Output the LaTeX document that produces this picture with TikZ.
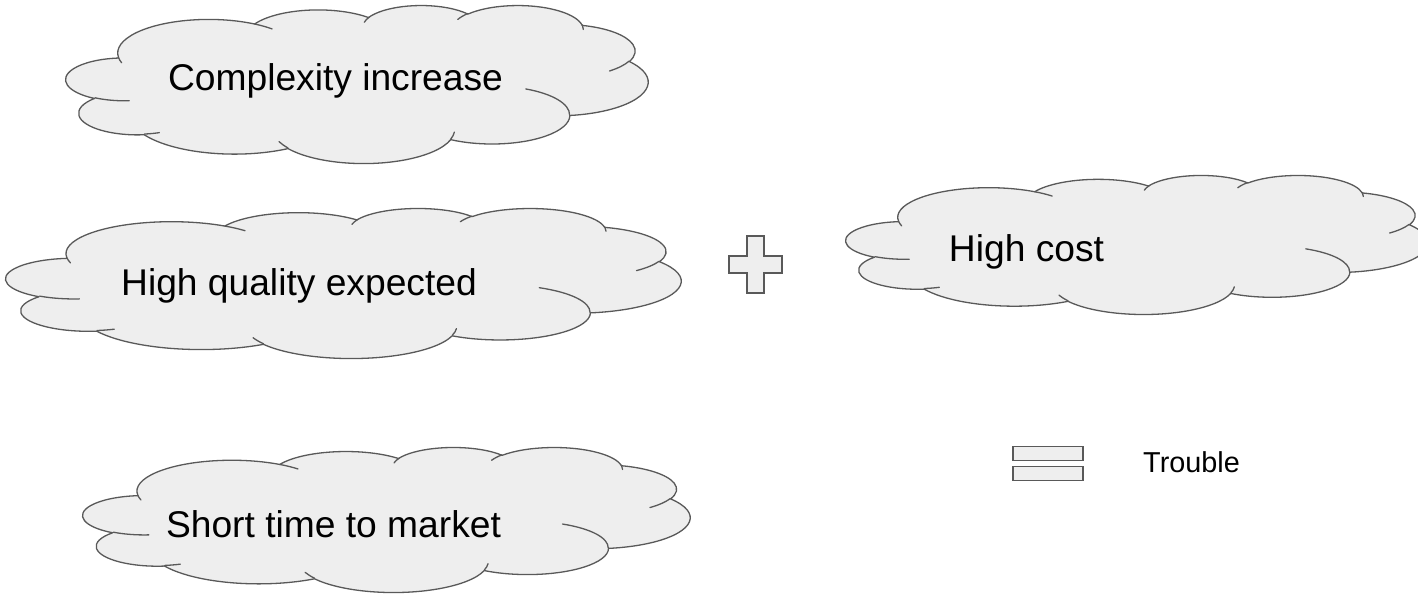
\documentclass[tikz,border=0pt]{standalone}
\usepackage{fontspec}
\setmainfont{Liberation Sans}

\definecolor{cloudfill}{HTML}{EEEEEE}
\definecolor{cloudedge}{HTML}{595959}

% An elliptical arc given by radii, start angle and sweep, where the angles
% are measured as directions from the centre; stored as a TikZ arc style
% with the equivalent parametric angles.
% #1 style name, #2 x radius, #3 y radius, #4 start angle, #5 sweep
\newcommand\defcloudarc[5]{%
  \pgfmathsetmacro\cla{atan2((#2)*sin(#4),(#3)*cos(#4))}%
  \pgfmathsetmacro\clb{atan2((#2)*sin((#4)+(#5)),(#3)*cos((#4)+(#5)))}%
  \pgfmathsetmacro\cld{\clb-\cla}%
  \ifdim\cld pt<0pt \pgfmathsetmacro\cld{\cld+360}\fi
  \edef\cltmp{\noexpand\tikzset{#1/.style={start angle=\cla,delta angle=\cld,x radius=#2,y radius=#3}}}%
  \cltmp}

% outline of the cloud (43.2 x 43.2 grid)
\defcloudarc{cloudarcA}{6.753}{9.190}{-190.487483}{123.780533}
\defcloudarc{cloudarcB}{5.333}{7.267}{-144.102383}{89.945233}
\defcloudarc{cloudarcC}{4.365}{5.945}{-145.807917}{99.723017}
\defcloudarc{cloudarcD}{4.857}{6.595}{-130.986067}{117.241733}
\defcloudarc{cloudarcE}{5.333}{7.273}{-78.708883}{109.026917}
\defcloudarc{cloudarcF}{6.775}{9.220}{-46.26725}{130.269}
\defcloudarc{cloudarcG}{5.785}{7.867}{0.625017}{114.033333}
\defcloudarc{cloudarcH}{6.752}{9.215}{22.4516}{115.17255}
\defcloudarc{cloudarcI}{7.720}{10.543}{66.242633}{75.711017}
\defcloudarc{cloudarcJ}{4.360}{5.918}{-274.942083}{146.735567}
\defcloudarc{cloudarcK}{4.345}{5.945}{-246.8285}{152.51885}
% short inner strokes between the puffs
\defcloudarc{cloudinA}{4.345}{5.945}{86.742}{26.4295}
\defcloudarc{cloudinB}{4.360}{5.918}{73.610467}{11.447467}
\defcloudarc{cloudinC}{6.752}{9.215}{137.62415}{14.0811}
\defcloudarc{cloudinD}{6.752}{9.215}{6.453267}{15.99835}
\defcloudarc{cloudinE}{5.785}{7.867}{-70.29235}{70.917367}
\defcloudarc{cloudinF}{5.333}{7.273}{30.318033}{27.7515}
\defcloudarc{cloudinG}{4.857}{6.595}{-13.744333}{14.8589}
\defcloudarc{cloudinH}{4.857}{6.595}{-149.18145}{18.195367}
\defcloudarc{cloudinI}{4.365}{5.945}{-163.494267}{17.68635}
\defcloudarc{cloudinJ}{6.753}{9.190}{-66.70695}{12.31935}
\defcloudarc{cloudinK}{6.753}{9.190}{157.65435}{11.858167}

\tikzset{
  cloudbody/.style={draw=cloudedge, fill=cloudfill, line width=0.65pt, line join=round},
  clouddetail/.style={draw=cloudedge, line width=0.65pt, line cap=round},
  mathsign/.style={draw=cloudedge, fill=cloudfill, line width=0.65pt},
  lbl/.style={inner sep=0pt, anchor=base, font=\fontsize{18.6pt}{22pt}\selectfont},
  smalllbl/.style={inner sep=0pt, anchor=base, font=\fontsize{14.4pt}{17pt}\selectfont},
}

% cloud in the box with top left corner (#1,#2), width #3 and height #4
\newcommand\cloudat[4]{%
  \begin{scope}[shift={(#1,#2)}, xscale=#3/43.2, yscale=#4/43.2]
    \path[cloudbody] (3.900,14.370) arc[cloudarcA] arc[cloudarcB] arc[cloudarcC]
      arc[cloudarcD] arc[cloudarcE] arc[cloudarcF] arc[cloudarcG] arc[cloudarcH]
      arc[cloudarcI] arc[cloudarcJ] arc[cloudarcK] -- cycle;
    \path[clouddetail]
      (4.693,26.177) arc[cloudinA]   (6.928,34.899) arc[cloudinB]
      (16.478,39.090) arc[cloudinC]  (28.827,34.751) arc[cloudinD]
      (34.129,22.954) arc[cloudinE]  (41.798,15.354) arc[cloudinF]
      (38.324,5.426) arc[cloudinG]   (29.078,3.952) arc[cloudinH]
      (22.141,4.720) arc[cloudinI]   (14.000,5.192) arc[cloudinJ]
      (4.127,15.789) arc[cloudinK];
  \end{scope}}

\begin{document}
\begin{tikzpicture}[x=0.5pt, y=-0.5pt]
  \useasboundingbox (0,0) rectangle (1418,595);

  % the four clouds
  \cloudat{66}{5}{582}{158}
  \cloudat{6}{208}{675}{150}
  \cloudat{83}{447}{607}{145}
  \cloudat{846}{175}{582}{139}

  \node[lbl] (complexity) at (335.5,90)  {Complexity increase};
  \node[lbl] (quality)    at (299,295)   {High quality expected};
  \node[lbl] (market)     at (333.5,537) {Short time to market};
  \node[lbl] (cost)       at (1026.5,261) {High cost};

  % plus sign
  \begin{scope}[shift={(755.5,264.5)}]
    \path[mathsign] (-8.5,-28.5) -- (8.5,-28.5) -- (8.5,-8.5) -- (26.5,-8.5)
      -- (26.5,8.5) -- (8.5,8.5) -- (8.5,28.5) -- (-8.5,28.5) -- (-8.5,8.5)
      -- (-26.5,8.5) -- (-26.5,-8.5) -- (-8.5,-8.5) -- cycle;
  \end{scope}

  % equals sign
  \path[mathsign] (1013,446.5) rectangle (1083,460.5);
  \path[mathsign] (1013,466.5) rectangle (1083,480.5);

  \node[smalllbl] (trouble) at (1191.5,472) {Trouble};
\end{tikzpicture}
\end{document}
